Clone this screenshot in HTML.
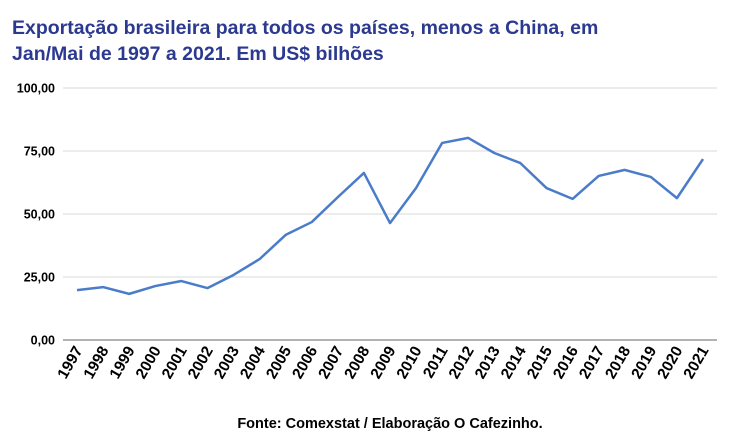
<!DOCTYPE html>
<html><head><meta charset="utf-8"><style>
body{margin:0;background:#fff;width:732px;height:436px;overflow:hidden;font-family:"Liberation Sans",sans-serif}
</style></head><body>
<svg width="732" height="436" xmlns="http://www.w3.org/2000/svg">
<text x="12" y="34" font-size="19.5" font-weight="bold" fill="#2b3990">Exportação brasileira para todos os países, menos a China, em</text>
<text x="12" y="60" font-size="19.5" font-weight="bold" fill="#2b3990">Jan/Mai de 1997 a 2021. Em US$ bilhões</text>
<g id="grid"></g><g id="ylab"></g><g id="xlab"></g>
<polyline id="line" fill="none" stroke="#4a7cc9" stroke-width="2.5" stroke-linejoin="round"/>
<text x="390" y="428" text-anchor="middle" font-size="14.5" font-weight="bold" fill="#000">Fonte: Comexstat / Elaboração O Cafezinho.</text>
</svg>
<script>
const years=["1997","1998","1999","2000","2001","2002","2003","2004","2005","2006","2007","2008","2009","2010","2011","2012","2013","2014","2015","2016","2017","2018","2019","2020","2021"];
const values=[19.8,21,18.3,21.4,23.4,20.6,25.8,32.1,41.7,46.8,56.7,66.3,46.4,60.3,78.2,80.2,74.2,70.2,60.3,56,65.1,67.5,64.7,56.3,71.8];
const yTicks=[0,25,50,75,100];
const yTickLabels=["0,00","25,00","50,00","75,00","100,00"];
const NS="http://www.w3.org/2000/svg";
const y=v=>340-v*2.52;
const x=i=>77+i*(626/(years.length-1));
const grid=document.getElementById('grid'),yl=document.getElementById('ylab'),xl=document.getElementById('xlab');
yTicks.forEach((t,i)=>{
 const l=document.createElementNS(NS,'line');
 l.setAttribute('x1',63);l.setAttribute('x2',717);l.setAttribute('y1',y(t));l.setAttribute('y2',y(t));
 l.setAttribute('stroke',t===0?'#999':'#d9d9d9');l.setAttribute('stroke-width',t===0?1.5:1);
 
 
 grid.appendChild(l);
 const tx=document.createElementNS(NS,'text');
 tx.setAttribute('x',55);tx.setAttribute('y',y(t)+4.5);tx.setAttribute('text-anchor','end');
 tx.setAttribute('font-size','12.5');tx.setAttribute('font-weight','bold');
 tx.textContent=yTickLabels[i];
 
 
 yl.appendChild(tx);
});
years.forEach((yr,i)=>{
 const tx=document.createElementNS(NS,'text');
 const px=x(i)+6,py=350;
 tx.setAttribute('x',px);tx.setAttribute('y',py);tx.setAttribute('text-anchor','end');
 tx.setAttribute('font-size','15.5');tx.setAttribute('font-weight','bold');
 tx.setAttribute('transform','rotate(-60 '+px+' '+py+')');
 tx.textContent=yr;
 
 
 xl.appendChild(tx);
});
document.getElementById('line').setAttribute('points',values.map((v,i)=>x(i)+','+y(v)).join(' '));
</script>
</body></html>
